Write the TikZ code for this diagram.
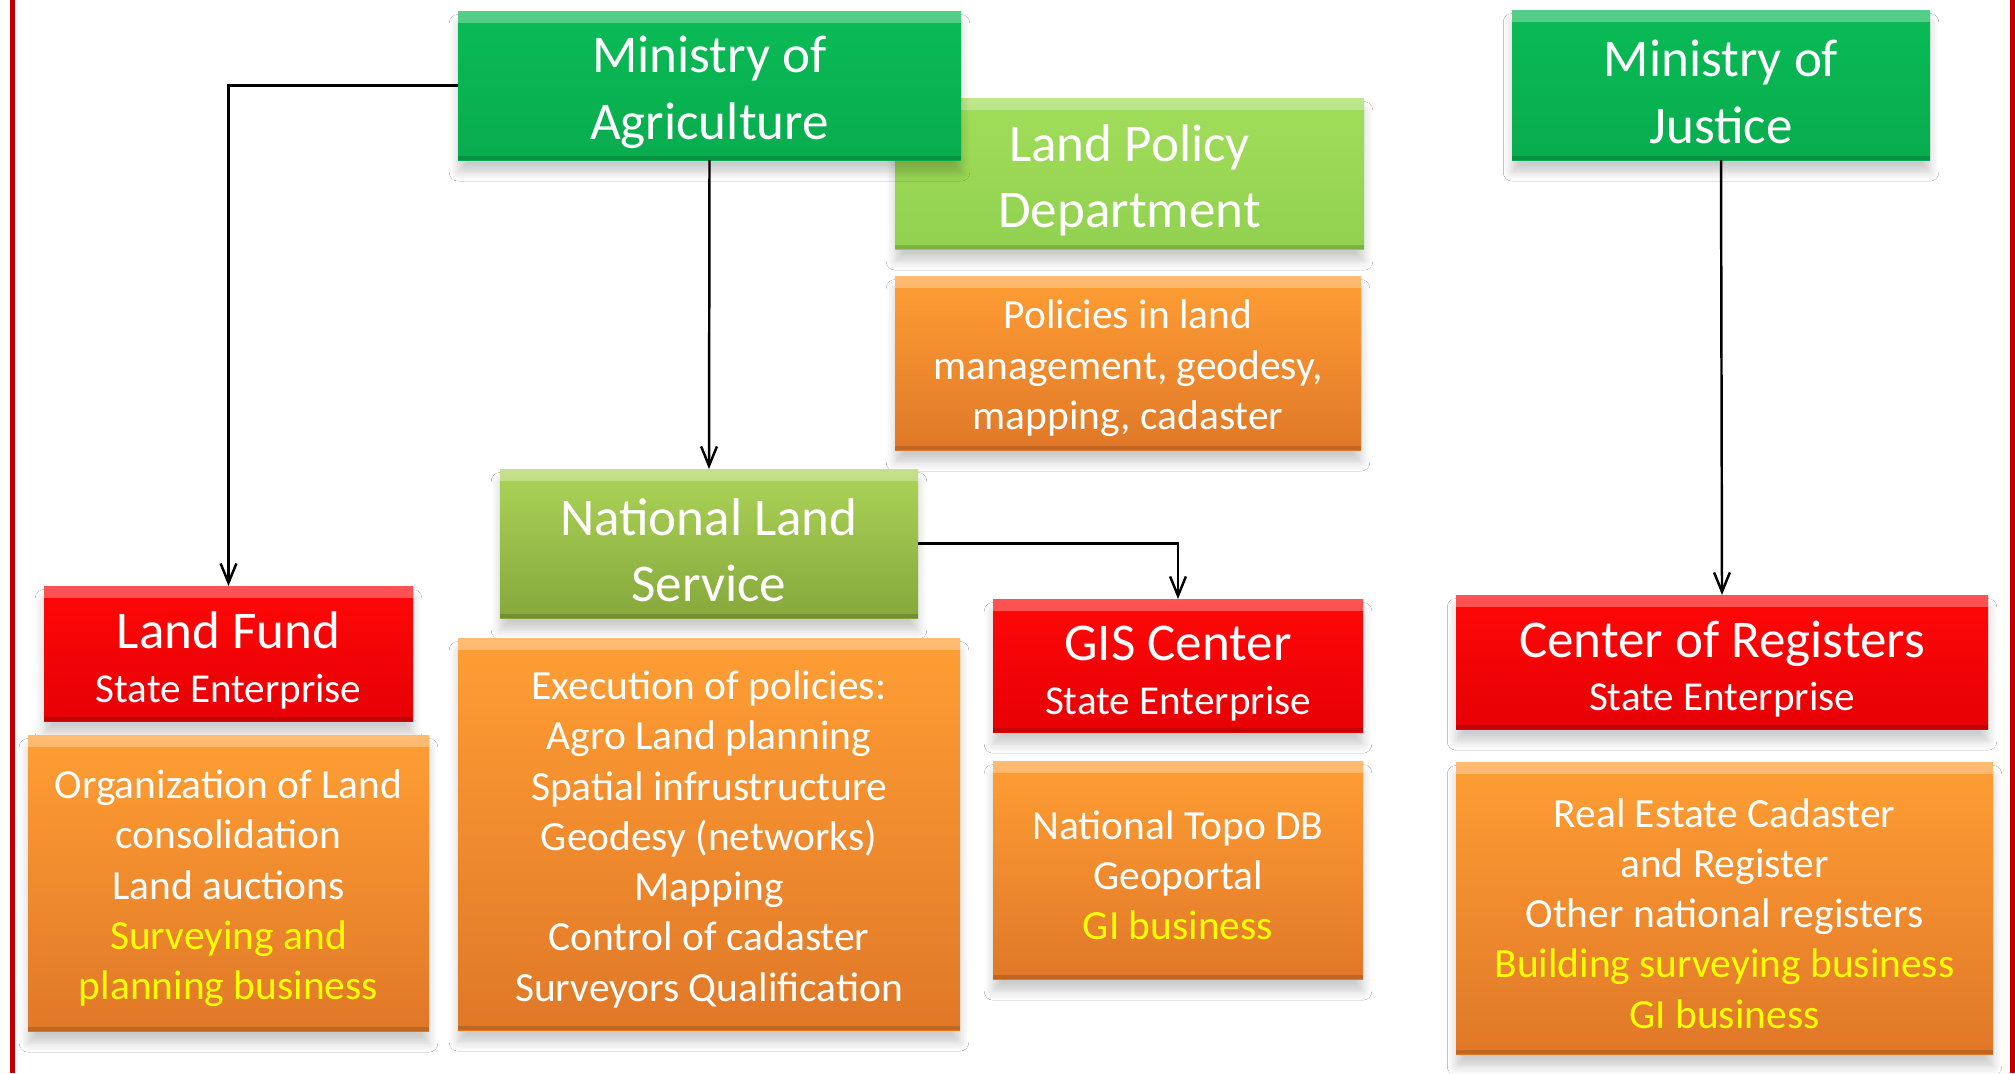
\documentclass[tikz,border=0pt]{standalone}
\usepackage{fontspec}
\setmainfont{Carlito}
\usetikzlibrary{arrows.meta,shadows.blur}

\definecolor{mingreen}{RGB}{10,187,86}
\definecolor{mingreendark}{RGB}{8,172,78}
\definecolor{deptgreen}{RGB}{160,222,90}
\definecolor{deptgreendark}{RGB}{146,208,80}
\definecolor{svcgreen}{RGB}{172,212,88}
\definecolor{svcgreendark}{RGB}{134,168,60}
\definecolor{entred}{RGB}{255,8,8}
\definecolor{entreddark}{RGB}{230,0,4}
\definecolor{taskorange}{RGB}{255,158,52}
\definecolor{taskorangedark}{RGB}{224,120,40}
\definecolor{bizyellow}{RGB}{255,255,0}
\definecolor{framered}{RGB}{192,0,0}

\newcommand\boxtitle{\fontsize{15.1}{18.9}\selectfont}
\newcommand\boxbody{\fontsize{11.8}{14.3}\selectfont}
\newcommand\boxsub{\fontsize{11.7}{14.2}\selectfont}
\newcommand\bizline[1]{{\color{bizyellow}#1}}
\newcommand\lift{\rule{0pt}{0.95em}}

\begin{document}
\begin{tikzpicture}[>={Straight Barb[length=5.5pt,width=4.5pt]},line width=0.7pt,
    box/.style={inner sep=0pt,outer sep=0pt,align=center,text=white,
        blur shadow={shadow xshift=0pt,shadow yshift=-3.5pt,shadow opacity=20,shadow blur radius=2.5pt,shadow blur steps=6},
        path picture={
            \fill[white,opacity=.3] (path picture bounding box.north west) rectangle ([yshift=-3.5pt]path picture bounding box.north east);
            \fill[black,opacity=.15] (path picture bounding box.south west) rectangle ([yshift=1.2pt]path picture bounding box.south east);
        }},
    ministry/.style={box,top color=mingreen,bottom color=mingreendark,font=\boxtitle},
    dept/.style={box,top color=deptgreen,bottom color=deptgreendark,font=\boxtitle},
    service/.style={box,top color=svcgreen,bottom color=svcgreendark,font=\boxtitle},
    enterprise/.style={box,top color=entred,bottom color=entreddark,font=\boxtitle},
    tasks/.style={box,top color=taskorange,bottom color=taskorangedark,font=\boxbody}]
    \useasboundingbox (0,0) rectangle (20.15,-10.73);
    \fill[white] (0,0) rectangle (20.15,-10.73);
    \draw[framered,line width=0.045cm] (0.125,0) -- (0.125,-10.73);
    \draw[framered,line width=0.045cm] (20.125,0) -- (20.125,-10.73);

    \node[dept, minimum width=4.69cm, minimum height=1.51cm] (lpd) at (11.295,-1.735) {\lift Land Policy\\Department};
    \node[tasks, minimum width=4.66cm, minimum height=1.74cm] (policies) at (11.28,-3.63) {\lift Policies in land\\management, geodesy,\\mapping, cadaster};
    \node[ministry, minimum width=5.03cm, minimum height=1.49cm] (moa) at (7.095,-0.855) {\lift Ministry of\\Agriculture};
    \node[ministry, minimum width=4.18cm, minimum height=1.50cm] (moj) at (17.21,-0.85) {\lift Ministry of\\Justice};
    \node[service, minimum width=4.18cm, minimum height=1.49cm] (nls) at (7.09,-5.435) {\lift National Land\\Service};

    \node[enterprise, minimum width=3.69cm, minimum height=1.35cm] (fund) at (2.285,-6.535) {\lift Land Fund\\[-3.6pt]\boxsub State Enterprise};
    \node[enterprise, minimum width=3.70cm, minimum height=1.33cm] (gis) at (11.78,-6.655) {\lift GIS Center\\[-3.6pt]\boxsub State Enterprise};
    \node[enterprise, minimum width=5.32cm, minimum height=1.34cm] (cor) at (17.22,-6.62) {\lift Center of Registers\\[-3.6pt]\boxsub State Enterprise};

    \node[tasks, minimum width=4.01cm, minimum height=2.96cm] (fundtasks) at (2.285,-8.83) {\lift Organization of Land\\consolidation\\Land auctions\\\bizline{Surveying and}\\\bizline{planning business}};
    \node[tasks, minimum width=5.02cm, minimum height=3.92cm] (nlstasks) at (7.09,-8.34) {\lift Execution of policies:\\Agro Land planning\\Spatial infrustructure\\Geodesy (networks)\\Mapping\\Control of cadaster\\Surveyors Qualification};
    \node[tasks, minimum width=3.70cm, minimum height=2.18cm] (gistasks) at (11.78,-8.70) {\lift National Topo DB\\Geoportal\\\bizline{GI business}};
    \node[tasks, minimum width=5.37cm, minimum height=2.92cm] (cortasks) at (17.245,-9.08) {\lift Real Estate Cadaster\\and Register\\Other national registers\\\bizline{Building surveying business}\\\bizline{GI business}};

    \draw[->] (moa.west) -| (fund.north);
    \draw[->] (moa.south) -- (nls.north);
    \draw[->] (nls.east) -| (gis.north);
    \draw[->] (moj.south) -- (cor.north);
\end{tikzpicture}
\end{document}
